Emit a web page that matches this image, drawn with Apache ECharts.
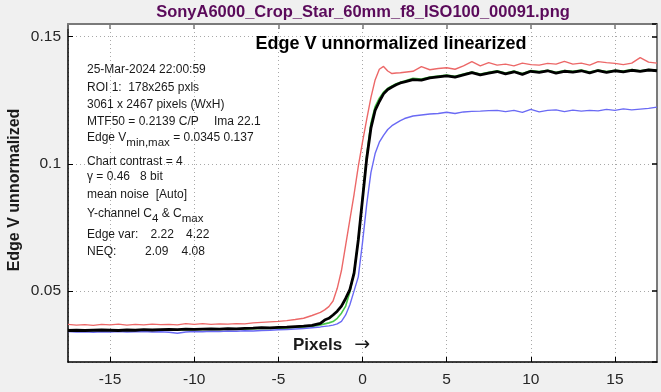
<!DOCTYPE html>
<html><head><meta charset="utf-8">
<script src="https://cdn.jsdelivr.net/npm/echarts@6/dist/echarts.min.js"></script>
<style>html,body{margin:0;padding:0;background:#f0f0f0;}#c{width:661px;height:392px;}</style>
</head><body><div id="c"></div>
<script>
const xs = [-17.5,-17,-16.5,-16,-15.5,-15,-14.5,-14,-13.5,-13,-12.5,-12,-11.5,-11,-10.5,-10,-9.5,-9,-8.5,-8,-7.5,-7,-6.5,-6,-5.5,-5,-4.5,-4,-3.5,-3,
  -2.5,-2.25,-2,-1.75,-1.5,-1.25,-1,-0.75,-0.5,-0.25,0,0.25,0.5,0.75,1,1.25,1.5,1.75,2,2.25,2.5,
  3,3.5,4,4.5,5,5.5,6,6.5,7,7.5,8,8.5,9,9.5,10,10.5,11,11.5,12,12.5,13,13.5,14,14.5,15,15.5,16,16.5,17,17.5];
const redVals = [0.0368,0.0365,0.0367,0.0364,0.0368,0.0366,0.0369,0.0365,0.0368,0.0366,0.0369,0.0367,0.0368,0.0366,0.0371,0.0368,0.0371,0.0368,0.0370,0.0369,0.0371,0.0370,0.0374,0.0376,0.0378,0.0380,0.0383,0.0387,0.0392,0.0403,
  0.0415,0.0425,0.0438,0.0460,0.0510,0.0580,0.0680,0.0780,0.0880,0.0990,0.1085,0.1175,0.1260,0.1330,0.1372,0.1383,0.1365,0.1355,0.1357,0.1358,0.1360,
  0.1364,0.1382,0.1370,0.1375,0.1378,0.1372,0.1385,0.1402,0.1385,0.1398,0.1388,0.1392,0.1385,0.1396,0.1390,0.1388,0.1395,0.1392,0.1403,0.1392,0.1396,0.1388,0.1402,0.1398,0.1395,0.1390,0.1396,0.1418,0.1400,0.1396];
const greenVals = [0.0342,0.0343,0.0343,0.0344,0.0344,0.0343,0.0343,0.0344,0.0344,0.0345,0.0345,0.0346,0.0346,0.0346,0.0347,0.0347,0.0348,0.0348,0.0348,0.0349,0.0349,0.0350,0.0351,0.0352,0.0352,0.0353,0.0354,0.0356,0.0358,0.0360,
  0.0366,0.0370,0.0374,0.0379,0.0392,0.0412,0.0440,0.0495,0.0575,0.0700,0.0865,0.1035,0.1160,0.1225,0.1258,0.1282,0.1297,0.1306,0.1315,0.1321,0.1326,
  0.1336,0.1333,0.1341,0.1345,0.1349,0.1344,0.1353,0.1361,0.1353,0.1360,0.1366,0.1357,0.1365,0.1355,0.1367,0.1363,0.1368,0.1360,0.1367,0.1364,0.1369,0.1361,0.1369,0.1363,0.1368,0.1365,0.1371,0.1366,0.1371,0.1369];
const blueVals = [0.0340,0.0338,0.0339,0.0337,0.0339,0.0338,0.0340,0.0338,0.0339,0.0340,0.0338,0.0339,0.0337,0.0333,0.0338,0.0340,0.0339,0.0341,0.0340,0.0342,0.0341,0.0343,0.0342,0.0344,0.0345,0.0347,0.0348,0.0350,0.0352,0.0355,
  0.0358,0.0360,0.0362,0.0365,0.0370,0.0380,0.0405,0.0445,0.0500,0.0555,0.0690,0.0840,0.0965,0.1040,0.1085,0.1112,0.1135,0.1150,0.1160,0.1170,0.1178,
  0.1188,0.1192,0.1196,0.1198,0.1203,0.1198,0.1204,0.1206,0.1207,0.1209,0.1210,0.1205,0.1210,0.1202,0.1214,0.1204,0.1210,0.1212,0.1205,0.1211,0.1207,0.1210,0.1208,0.1214,0.1210,0.1216,0.1212,0.1215,0.1218,0.1223];
const blackVals = [0.0344,0.0345,0.0344,0.0345,0.0346,0.0345,0.0344,0.0346,0.0345,0.0347,0.0346,0.0347,0.0348,0.0347,0.0349,0.0348,0.0349,0.0350,0.0349,0.0351,0.0350,0.0352,0.0353,0.0355,0.0354,0.0356,0.0357,0.0359,0.0361,0.0364,
  0.0372,0.0385,0.0392,0.0405,0.0420,0.0440,0.0470,0.0505,0.0570,0.0700,0.0860,0.1020,0.1140,0.1210,0.1245,0.1275,0.1292,0.1302,0.1311,0.1318,0.1322,
  0.1331,0.1329,0.1338,0.1342,0.1346,0.1341,0.1350,0.1359,0.1350,0.1357,0.1363,0.1354,0.1362,0.1352,0.1364,0.1360,0.1366,0.1357,0.1364,0.1361,0.1366,0.1358,0.1367,0.1360,0.1366,0.1362,0.1368,0.1364,0.1369,0.1366];

const titleText = 'SonyA6000_Crop_Star_60mm_f8_ISO100_00091.png';
const innerTitle = 'Edge V unnormalized linearized';
const yAxisName = 'Edge V unnormalized';
const xAxisName = 'Pixels';

const FONT = '"Liberation Sans", Arial, sans-serif';
function pairs(v){ return xs.map((x,i)=>[x,v[i]]); }
function line(name, vals, color, width, z){
  return {name, type:'line', data:pairs(vals), showSymbol:false, symbol:'none', z:z,
    lineStyle:{color, width}, itemStyle:{color}, animation:false};
}
function txt(x, y, text, extra){
  return Object.assign({type:'text', x, y, silent:true, z:100,
    style:Object.assign({text, font:'12px '+FONT, fill:'#1a1a1a', verticalAlign:'middle', align:'left'}, extra||{})});
}
const richMain = {n:{fontSize:12, fontFamily:FONT, lineHeight:22, verticalAlign:'middle', fill:'#1a1a1a'},
                  s:{fontSize:11.5, fontFamily:FONT, lineHeight:10, verticalAlign:'bottom', fill:'#1a1a1a'}};

const chart = echarts.init(document.getElementById('c'), null, {renderer:'canvas'});
chart.setOption({
  backgroundColor:'#f0f0f0',
  animation:false,
  grid:{left:68, top:24, width:589, height:338, show:true, backgroundColor:'#ffffff', borderWidth:0},
  xAxis:[{
    type:'value', min:-17.5, max:17.5, splitNumber:7, minInterval:5, maxInterval:5,
    axisLine:{show:true, onZero:false, lineStyle:{color:'#000', width:1.5}},
    axisTick:{show:true, inside:true, length:5, lineStyle:{color:'#000', width:1}},
    axisLabel:{showMinLabel:false, showMaxLabel:false, fontSize:15.5, fontFamily:FONT, color:'#262626', margin:10},
    splitLine:{show:true, lineStyle:{type:[1,3], color:'#a8a8a8', width:1}}
  },{
    type:'value', position:'top', min:-17.5, max:17.5, splitNumber:7, minInterval:5, maxInterval:5,
    axisLine:{show:true, onZero:false, lineStyle:{color:'#7a7a7a', width:2}},
    axisTick:{show:true, inside:true, length:5, lineStyle:{color:'#7a7a7a', width:1.5}},
    axisLabel:{show:false}, splitLine:{show:false}
  }],
  yAxis:[{
    type:'value', min:0.022, max:0.155, splitNumber:3, minInterval:0.05, maxInterval:0.05,
    axisLine:{show:true, onZero:false, lineStyle:{color:'#000', width:1.5}},
    axisTick:{show:true, inside:true, length:5, lineStyle:{color:'#000', width:1}},
    axisLabel:{showMinLabel:false, showMaxLabel:false, fontSize:15.5, fontFamily:FONT, color:'#262626', margin:7},
    splitLine:{show:true, lineStyle:{type:[1,3], color:'#a8a8a8', width:1}}
  },{
    type:'value', position:'right', min:0.022, max:0.155, splitNumber:3, minInterval:0.05, maxInterval:0.05,
    axisLine:{show:true, onZero:false, lineStyle:{color:'#7a7a7a', width:2}},
    axisTick:{show:true, inside:true, length:5, lineStyle:{color:'#000', width:1.5}},
    axisLabel:{show:false}, splitLine:{show:false}
  }],
  series:[
    line('red', redVals, '#ec6868', 1.4, 2),
    line('green', greenVals, '#48c848', 1.6, 3),
    line('blue', blueVals, '#6a6af4', 1.4, 4),
    line('black', blackVals, '#000000', 2.8, 5)
  ],
  graphic:[
    txt(363, 12, titleText, {font:'bold 16.5px '+FONT, fill:'#5a0a5a', align:'center'}),
    txt(391, 44, innerTitle, {font:'bold 18px '+FONT, fill:'#000', align:'center'}),
    {type:'text', x:15, y:190, rotation:Math.PI/2, silent:true, z:100,
      style:{text:yAxisName, font:'bold 16px '+FONT, fill:'#1a1a1a', align:'center', verticalAlign:'middle'}},
    {type:'text', x:293, y:345, silent:true, z:100,
      style:{text:'{b|'+xAxisName+'}{a|  →}', verticalAlign:'middle', align:'left',
        rich:{b:{fontSize:17, fontWeight:'bold', fontFamily:FONT, fill:'#1a1a1a'}, a:{fontSize:19, fontFamily:'DejaVu Sans', fill:'#1a1a1a'}}}},
    txt(87, 70, '25-Mar-2024 22:00:59'),
    txt(87, 87.5, 'ROI 1:  178x265 pxls'),
    txt(87, 105, '3061 x 2467 pixels (WxH)'),
    txt(87, 122, 'MTF50 = 0.2139 C/P'),
    txt(214, 122, 'Ima 22.1'),
    {type:'text', x:87, y:138, silent:true, z:100,
      style:{text:'{n|Edge V}{s|min,max}{n| = 0.0345 0.137}', rich:richMain, verticalAlign:'middle', align:'left'}},
    txt(87, 161.5, 'Chart contrast = 4'),
    txt(87, 177, 'γ = 0.46   8 bit'),
    txt(87, 195, 'mean noise  [Auto]'),
    {type:'text', x:87, y:214, silent:true, z:100,
      style:{text:'{n|Y-channel C}{s|4}{n| & C}{s|max}', rich:richMain, verticalAlign:'middle', align:'left'}},
    txt(87, 235, 'Edge var:'),
    txt(150.5, 235, '2.22'),
    txt(186, 235, '4.22'),
    txt(87, 252, 'NEQ:'),
    txt(145, 252, '2.09'),
    txt(181.5, 252, '4.08')
  ]
});
</script></body></html>
